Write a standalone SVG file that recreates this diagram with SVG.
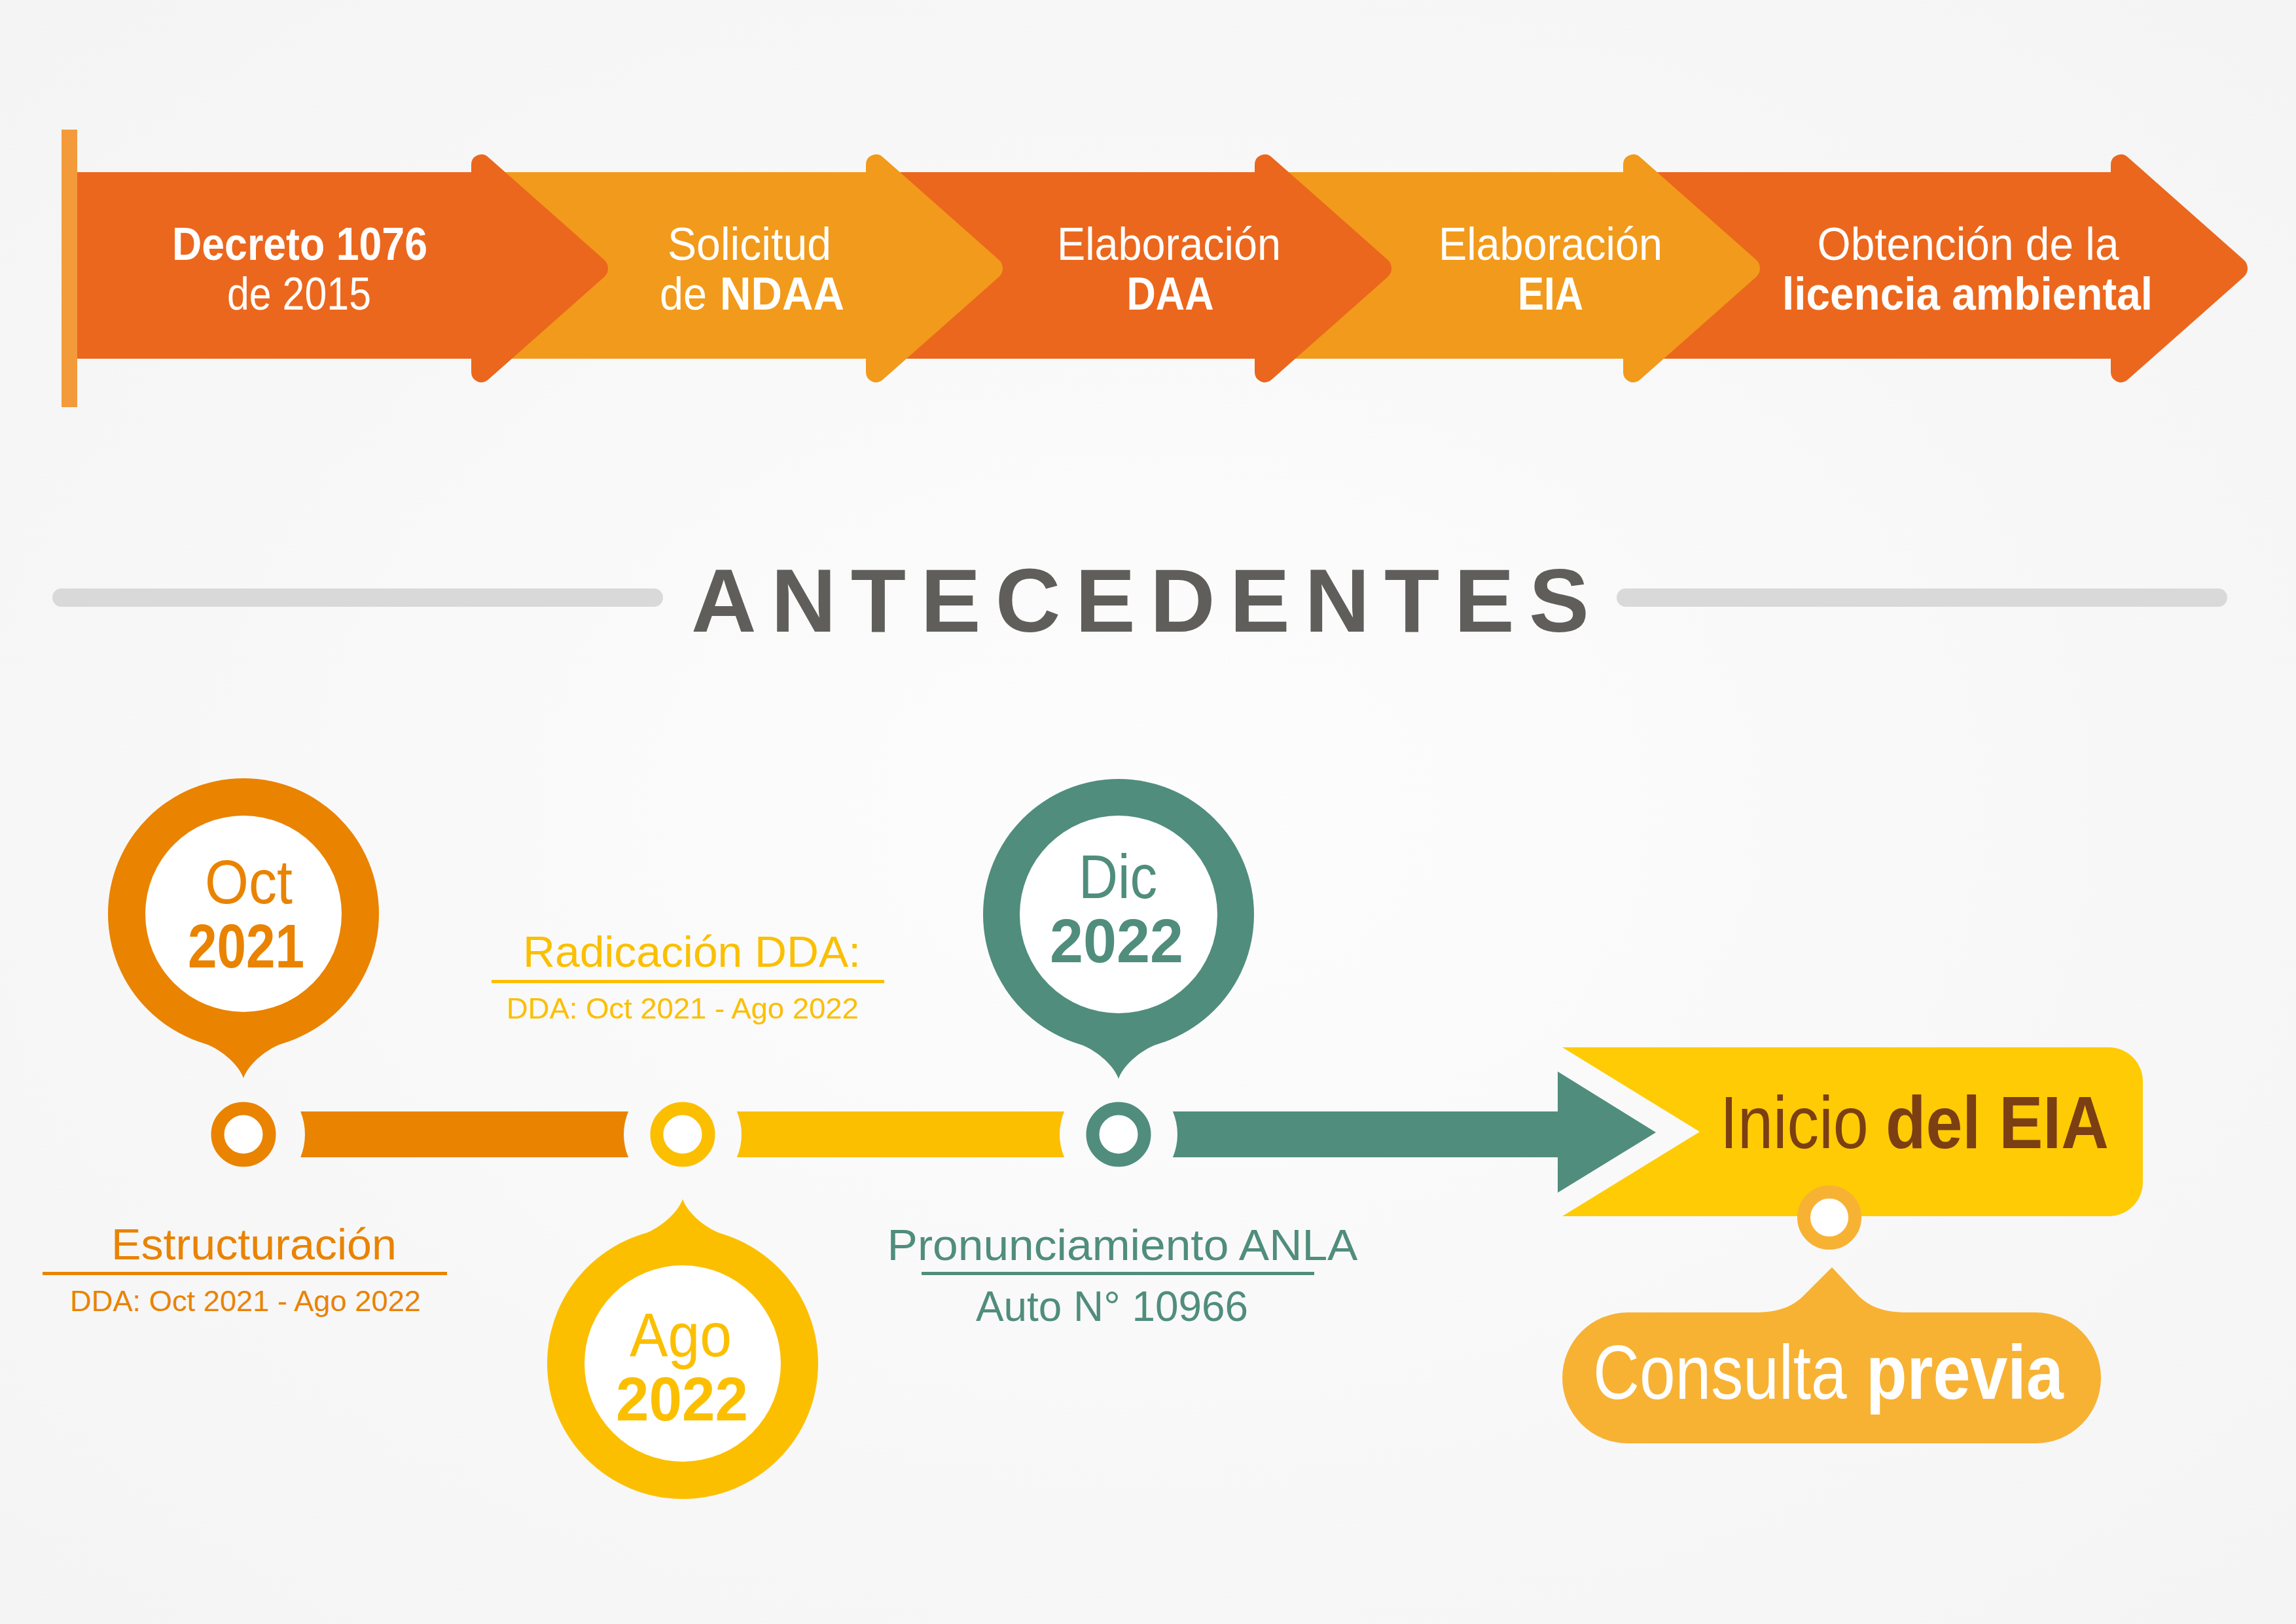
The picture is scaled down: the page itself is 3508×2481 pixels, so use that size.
<svg xmlns="http://www.w3.org/2000/svg" xmlns:xlink="http://www.w3.org/1999/xlink" width="3508" height="2481" viewBox="0 0 3508 2481">
<defs>
<radialGradient id="bg" cx="50%" cy="50%" r="70%">
<stop offset="0" stop-color="#FDFDFD"/>
<stop offset="1" stop-color="#F4F4F4"/>
</radialGradient>
<path id="head" d="M0,251.5 A15.5,15.5 0 0 1 25.8,239.9 L203,396.7 A17.7,17.7 0 0 1 203,423.3 L25.8,580.1 A15.5,15.5 0 0 1 0,568.5 Z"/>
<g id="pin">
<circle cx="0" cy="0" r="207"/>
<path d="M-62,197 C-38,205 -8,228 0,251 C8,228 38,205 62,197 L0,120 Z"/>
</g>
<style>
.t{font-family:"Liberation Sans",Arial,sans-serif;}
.w{fill:#FFFFFF;font-size:70px;}
.b{font-weight:700;}
.red{fill:#EB671D;}
.yel{fill:#F29A1B;}
.org{fill:#E98300;}
.ylw{fill:#FBBF00;}
.teal{fill:#508D7C;}
.ring{fill:#FFFFFF;stroke-width:20;}
</style>
</defs>
<rect x="0" y="0" width="3508" height="2481" fill="url(#bg)"/>

<g id="process">
<rect x="94" y="198" width="24" height="424" fill="#F39A3B"/>
<g id="step5">
<rect class="red" x="2480" y="263" width="747" height="285"/>
<use href="#head" xlink:href="#head" x="3225" class="red"/>
<text class="t w" x="3007" y="397" text-anchor="middle" textLength="461" lengthAdjust="spacingAndGlyphs">Obtención de la</text>
<text class="t w b" x="3006" y="473" text-anchor="middle" textLength="566" lengthAdjust="spacingAndGlyphs">licencia ambiental</text>
</g>
<g id="step4">
<rect class="yel" x="1917" y="263" width="565" height="285"/>
<use href="#head" xlink:href="#head" x="2480" class="yel"/>
<text class="t w" x="2369" y="397" text-anchor="middle" textLength="342" lengthAdjust="spacingAndGlyphs">Elaboración</text>
<text class="t w b" x="2369" y="473" text-anchor="middle" textLength="100" lengthAdjust="spacingAndGlyphs">EIA</text>
</g>
<g id="step3">
<rect class="red" x="1323" y="263" width="596" height="285"/>
<use href="#head" xlink:href="#head" x="1917" class="red"/>
<text class="t w" x="1786" y="397" text-anchor="middle" textLength="342" lengthAdjust="spacingAndGlyphs">Elaboración</text>
<text class="t w b" x="1788" y="473" text-anchor="middle" textLength="133" lengthAdjust="spacingAndGlyphs">DAA</text>
</g>
<g id="step2">
<rect class="yel" x="720" y="263" width="605" height="285"/>
<use href="#head" xlink:href="#head" x="1323" class="yel"/>
<text class="t w" x="1145" y="397" text-anchor="middle" textLength="250" lengthAdjust="spacingAndGlyphs">Solicitud</text>
<text class="t w" x="1008" y="473" textLength="72" lengthAdjust="spacingAndGlyphs">de</text>
<text class="t w b" x="1100" y="473" textLength="190" lengthAdjust="spacingAndGlyphs">NDAA</text>
</g>
<g id="step1">
<rect class="red" x="118" y="263" width="604" height="285"/>
<use href="#head" xlink:href="#head" x="720" class="red"/>
<text class="t w b" x="458" y="397" text-anchor="middle" textLength="390" lengthAdjust="spacingAndGlyphs">Decreto 1076</text>
<text class="t w" x="457" y="473" text-anchor="middle" textLength="220" lengthAdjust="spacingAndGlyphs">de 2015</text>
</g>
</g>

<g id="title">
<rect x="80" y="899" width="933" height="28" rx="14" fill="#D9D9D9"/>
<rect x="2470" y="899" width="933" height="28" rx="14" fill="#D9D9D9"/>
<text class="t b" x="1056" y="965" font-size="138" fill="#5F5E5A" textLength="1372" lengthAdjust="spacing">ANTECEDENTES</text>
</g>

<g id="connectors">
<path class="org" d="M459.2,1698 L960.1,1698 A90,90 0 0 0 960.1,1768 L459.2,1768 A94,94 0 0 0 459.2,1698 Z"/>
<path class="ylw" d="M1125.9,1698 L1626.1,1698 A90,90 0 0 0 1626.1,1768 L1125.9,1768 A90,90 0 0 0 1125.9,1698 Z"/>
<path class="teal" d="M1791.9,1698 L2382,1698 L2382,1768 L1791.9,1768 A90,90 0 0 0 1791.9,1698 Z"/>
<polygon class="teal" points="2380,1637 2530,1730 2380,1822"/>
</g>

<g id="oct2021">
<use href="#pin" xlink:href="#pin" transform="translate(372,1396)" class="org"/>
<circle cx="372" cy="1396" r="150" fill="#FFFFFF"/>
<text class="t org" x="380" y="1380" font-size="95" text-anchor="middle" textLength="134" lengthAdjust="spacingAndGlyphs">Oct</text>
<text class="t b org" x="376" y="1478" font-size="94" text-anchor="middle" textLength="178" lengthAdjust="spacingAndGlyphs">2021</text>
<circle class="ring" cx="372" cy="1733" r="39.5" stroke="#E98300"/>
<text class="t org" x="388" y="1924" font-size="66" text-anchor="middle" textLength="436" lengthAdjust="spacingAndGlyphs">Estructuración</text>
<rect class="org" x="65" y="1943" width="618" height="5"/>
<text class="t org" x="375" y="2003" font-size="44" text-anchor="middle" textLength="536" lengthAdjust="spacingAndGlyphs">DDA: Oct 2021 - Ago 2022</text>
</g>

<g id="ago2022">
<use href="#pin" xlink:href="#pin" transform="translate(1043,2083) scale(1,-1)" class="ylw"/>
<circle cx="1043" cy="2083" r="150" fill="#FFFFFF"/>
<text class="t ylw" x="1040" y="2072" font-size="95" text-anchor="middle" textLength="156" lengthAdjust="spacingAndGlyphs">Ago</text>
<text class="t b ylw" x="1042" y="2170" font-size="94" text-anchor="middle" textLength="202" lengthAdjust="spacingAndGlyphs">2022</text>
<circle class="ring" cx="1043" cy="1733" r="39.5" stroke="#FBBF00"/>
<text class="t ylw" x="1057" y="1477" font-size="67" text-anchor="middle" textLength="516" lengthAdjust="spacingAndGlyphs">Radicación DDA:</text>
<rect class="ylw" x="751" y="1497" width="600" height="5"/>
<text class="t ylw" x="1043" y="1556" font-size="44" text-anchor="middle" textLength="538" lengthAdjust="spacingAndGlyphs">DDA: Oct 2021 - Ago 2022</text>
</g>

<g id="dic2022">
<use href="#pin" xlink:href="#pin" transform="translate(1709,1397)" class="teal"/>
<circle cx="1709" cy="1397" r="151" fill="#FFFFFF"/>
<text class="t teal" x="1708" y="1372" font-size="95" text-anchor="middle" textLength="120" lengthAdjust="spacingAndGlyphs">Dic</text>
<text class="t b teal" x="1706" y="1470" font-size="94" text-anchor="middle" textLength="204" lengthAdjust="spacingAndGlyphs">2022</text>
<circle class="ring" cx="1709" cy="1733" r="39.5" stroke="#508D7C"/>
<text class="t teal" x="1715" y="1925" font-size="66" text-anchor="middle" textLength="719" lengthAdjust="spacingAndGlyphs">Pronunciamiento ANLA</text>
<rect class="teal" x="1408" y="1943" width="600" height="5"/>
<text class="t teal" x="1699" y="2018" font-size="64" text-anchor="middle" textLength="416" lengthAdjust="spacingAndGlyphs">Auto N° 10966</text>
</g>

<g id="inicio">
<path fill="#FFCB05" d="M2387,1600 L3222,1600 A52,52 0 0 1 3274,1652 L3274,1806 A52,52 0 0 1 3222,1858 L2387,1858 L2597,1729 Z"/>
<text class="t" transform="translate(2628,1754) scale(0.86,1)" x="0" y="0" font-size="113" fill="#7B3F13">Inicio</text>
<text class="t b" transform="translate(2881,1754) scale(0.89,1)" x="0" y="0" font-size="113" fill="#7B3F13">del EIA</text>
<circle class="ring" cx="2795" cy="1860" r="39" stroke="#F7B234"/>
</g>

<g id="consulta">
<path fill="#F7B234" d="M2680,2005 C2720,2005 2740,1995 2756,1979 L2799,1936 L2839,1979 C2855,1995 2875,2005 2915,2005 Z"/>
<rect x="2387" y="2005" width="823" height="200" rx="100" fill="#F7B234"/>
<text class="t" transform="translate(2434,2137) scale(0.847,1)" x="0" y="0" font-size="116" fill="#FFFFFF">Consulta</text>
<text class="t b" transform="translate(2851,2137) scale(0.883,1)" x="0" y="0" font-size="116" fill="#FFFFFF">previa</text>
</g>
</svg>
